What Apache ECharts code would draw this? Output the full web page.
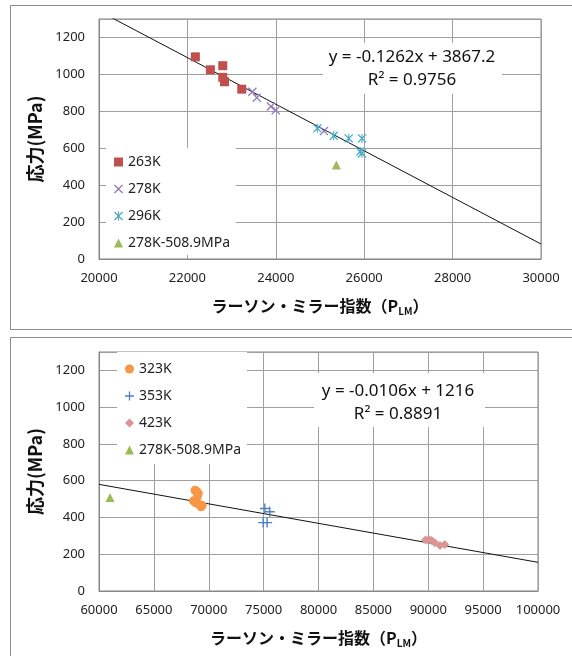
<!DOCTYPE html>
<html>
<head>
<meta charset="utf-8">
<script src="https://cdn.jsdelivr.net/npm/echarts@6/dist/echarts.min.js"></script>
<style>
  html, body { margin: 0; padding: 0; background: #fff; }
  #chart { width: 572px; height: 656px; }
</style>
</head>
<body>
<div id="chart"></div>
<script>
// upper panel: 263K - 296K  (x = PLM, y = stress MPa)
const k263 = [[22180, 1095], [22520, 1025], [22800, 1047], [22800, 984], [22840, 960], [23230, 920]];
const k278 = [[23470, 906], [23570, 874], [23890, 826], [24000, 806], [25090, 693]];
const k296 = [[24940, 708], [25310, 667], [25650, 653], [25950, 653], [25910, 582], [25950, 572]];
const k278HighStress = [[25370, 508.9]];
const fitUpper = [[20000, 1343.2], [30000, 81.2]];

// lower panel: 323K - 423K
const k323 = [[68750, 548], [68900, 542], [69050, 530], [68950, 512], [68600, 490],
              [68800, 480], [69100, 472], [69400, 465], [69300, 458]];
const k353 = [[75110, 449], [75560, 431], [74960, 372], [75320, 372]];
const k423 = [[89750, 278], [90050, 280], [90310, 275], [90600, 263], [91070, 248], [91500, 253]];
const k278Lower = [[61000, 508.9]];
const fitLower = [[60000, 580], [100000, 156]];

const upperLegend = ['263K', '278K', '296K', '278K-508.9MPa'];
const lowerLegend = ['323K', '353K', '423K', '278K-508.9MPa'];
const eqUpper = ['y = -0.1262x + 3867.2', 'R² = 0.9756'];
const eqLower = ['y = -0.0106x + 1216', 'R² = 0.8891'];

const NUM_FONT = 'Noto Sans';
const JP_FONT = 'Noto Sans CJK JP';

const X_MARK = 'path://M1,0L5,4L9,0L10,1L6,5L10,9L9,10L5,6L1,10L0,9L4,5L0,1Z';
const STAR_MARK = 'path://M1,0L5,4L9,0L10,1L6,5L10,9L9,10L5,6L1,10L0,9L4,5L0,1Z M4.4,0L5.6,0L5.6,10L4.4,10Z';
const PLUS_MARK = 'path://M4.3,0L5.7,0L5.7,4.3L10,4.3L10,5.7L5.7,5.7L5.7,10L4.3,10L4.3,5.7L0,5.7L0,4.3L4.3,4.3Z';

const gridLine = { lineStyle: { color: '#9f9f9f', width: 1 } };
const frameLine = { lineStyle: { color: '#868686', width: 1 } };
const plain = v => String(v);

function xAxisFor(gridIndex, min, max, interval) {
  return {
    type: 'value', gridIndex, min, max, interval,
    axisLine: Object.assign({ show: true }, frameLine),
    axisTick: { show: false },
    splitLine: gridLine,
    axisLabel: { fontFamily: NUM_FONT, fontSize: 13, color: '#222', margin: 13, formatter: plain },
    name: '{a|ラーソン・ミラー指数（P}{s|LM}{a|）}',
    nameLocation: 'middle',
    nameGap: 37,
    nameTextStyle: {
      rich: {
        a: { fontFamily: JP_FONT, fontWeight: 'bold', fontSize: 16, color: '#111', lineHeight: 20 },
        s: { fontFamily: JP_FONT, fontWeight: 'bold', fontSize: 10, color: '#111', lineHeight: 12, verticalAlign: 'bottom' }
      }
    }
  };
}

function yAxisFor(gridIndex) {
  return {
    type: 'value', gridIndex, min: 0, max: 1300, interval: 200,
    axisLine: Object.assign({ show: true }, frameLine),
    axisTick: { show: false },
    splitLine: gridLine,
    axisLabel: { fontFamily: NUM_FONT, fontSize: 13, color: '#222', margin: 14, showMaxLabel: false, formatter: plain },
    name: '応力(MPa)',
    nameLocation: 'middle',
    nameGap: 39,
    nameTextStyle: { fontFamily: JP_FONT, fontWeight: 'bold', fontSize: 18, color: '#111' }
  };
}

function scatter(name, data, idx, symbol, size, color) {
  return {
    type: 'scatter', name, data, xAxisIndex: idx, yAxisIndex: idx,
    symbol, symbolSize: size,
    itemStyle: { color: color, opacity: 1 },
    z: 3
  };
}

function fitLine(data, idx) {
  return {
    type: 'line', data, xAxisIndex: idx, yAxisIndex: idx,
    symbol: 'none', silent: true, clip: true,
    lineStyle: { color: '#111', width: 1 }, z: 2
  };
}

function legendFor(names, left, top, padding) {
  return {
    data: names, orient: 'vertical', left, top, padding,
    backgroundColor: '#fff', itemWidth: 9, itemHeight: 9, itemGap: 13,
    selectedMode: false,
    textStyle: { fontFamily: NUM_FONT, fontSize: 14, color: '#222', lineHeight: 14 }
  };
}

function equation(lines, box, cx, y1, y2) {
  return [
    { type: 'rect', z: 5, silent: true, shape: box, style: { fill: '#fff' } },
    { type: 'text', z: 6, silent: true, x: cx, y: y1,
      style: { text: lines[0], fontFamily: NUM_FONT, fontSize: 17, fill: '#111', align: 'center', verticalAlign: 'middle' } },
    { type: 'text', z: 6, silent: true, x: cx, y: y2,
      style: { text: lines[1], fontFamily: NUM_FONT, fontSize: 17, fill: '#111', align: 'center', verticalAlign: 'middle' } }
  ];
}

const chart = echarts.init(document.getElementById('chart'));

chart.setOption({
  animation: false,
  grid: [
    { left: 99, top: 19, width: 442, height: 240, show: true, borderColor: '#868686', borderWidth: 1 },
    { left: 99, top: 352, width: 439, height: 239, show: true, borderColor: '#868686', borderWidth: 1 }
  ],
  xAxis: [xAxisFor(0, 20000, 30000, 2000), xAxisFor(1, 60000, 100000, 5000)],
  yAxis: [yAxisFor(0), yAxisFor(1)],
  legend: [
    legendFor(upperLegend, 106, 148, [7, 6, 5, 8]),
    legendFor(lowerLegend, 117, 352, [10, 6, 7, 8])
  ],
  graphic: [
    { type: 'rect', silent: true, shape: { x: 10.5, y: 5.5, width: 620, height: 324 },
      style: { fill: 'none', stroke: '#8a8a8a', lineWidth: 1 } },
    { type: 'rect', silent: true, shape: { x: 10.5, y: 337.5, width: 620, height: 340 },
      style: { fill: 'none', stroke: '#8a8a8a', lineWidth: 1 } }
  ].concat(
    equation(eqUpper, { x: 323, y: 43, width: 179, height: 51 }, 412, 57, 80),
    equation(eqLower, { x: 314, y: 373, width: 171, height: 54 }, 398, 391, 414)
  ),
  series: [
    fitLine(fitUpper, 0),
    scatter('263K', k263, 0, 'rect', 9, '#c0504d'),
    scatter('278K', k278, 0, X_MARK, 9, '#9179b8'),
    scatter('296K', k296, 0, STAR_MARK, 9, '#4bacc6'),
    scatter('278K-508.9MPa', k278HighStress, 0, 'triangle', 9, '#9bbb59'),
    fitLine(fitLower, 1),
    scatter('323K', k323, 1, 'circle', 9, '#f79646'),
    scatter('353K', k353, 1, PLUS_MARK, 10, '#4f81bd'),
    scatter('423K', k423, 1, 'diamond', 9, '#d99694'),
    scatter('278K-508.9MPa', k278Lower, 1, 'triangle', 9, '#9bbb59')
  ]
});
</script>
</body>
</html>
